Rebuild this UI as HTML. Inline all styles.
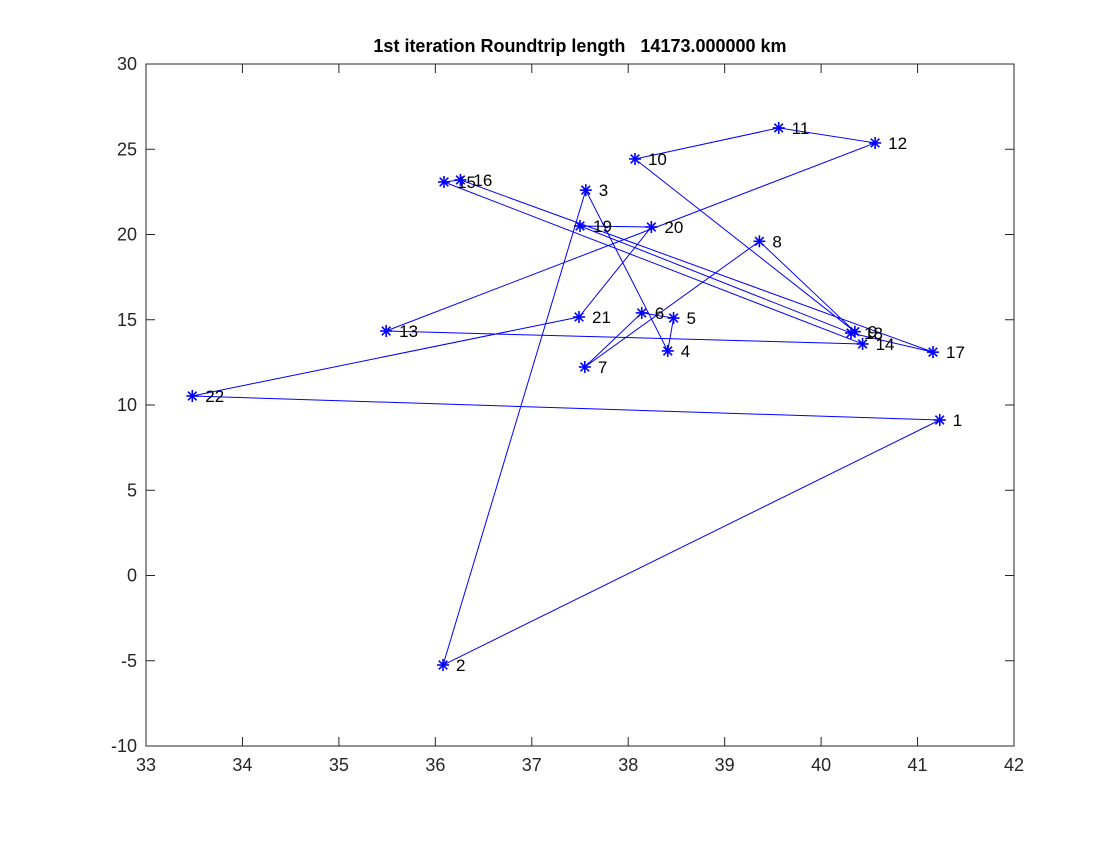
<!DOCTYPE html>
<html><head><meta charset="utf-8"><style>
body{margin:0;background:#fff}
svg text{font-family:"Liberation Sans",sans-serif}
</style></head><body>
<svg id="chart" width="1120" height="840">
<rect width="1120" height="840" fill="#fff"/>
</svg>
<script>
const cityIds=[1,2,3,4,5,6,7,8,9,10,11,12,13,14,15,16,17,18,19,20,21,22];
const cityX=[41.23,36.08,37.56,38.41,38.47,38.14,37.55,39.36,40.35,38.07,39.56,40.56,35.49,40.43,36.09,36.26,41.16,40.31,37.5,38.24,37.49,33.48];
const cityY=[9.12,-5.25,22.6,13.17,15.1,15.4,12.23,19.6,14.3,24.43,26.25,25.37,14.34,13.58,23.08,23.2,13.1,14.22,20.5,20.44,15.16,10.53];
const xTicks=[33,34,35,36,37,38,39,40,41,42];
const yTicks=[-10,-5,0,5,10,15,20,25,30];
const titleText="1st iteration Roundtrip length   14173.000000 km";

const L=146,R=1014,T=64,B=746;
const sx=v=>L+(v-33)/(42-33)*(R-L);
const sy=v=>B-(v+10)/(30+10)*(B-T);
const svg=document.getElementById('chart');
const NS='http://www.w3.org/2000/svg';
function mk(tag,attrs,parent){const e=document.createElementNS(NS,tag);for(const k in attrs)e.setAttribute(k,attrs[k]);(parent||svg).appendChild(e);return e;}

const frame=mk('rect',{x:L,y:T,width:R-L,height:B-T,fill:'none',stroke:'#262626','stroke-width':1});



xTicks.forEach(t=>{
  const x=sx(t);
  const tk=mk('line',{x1:x,x2:x,y1:B,y2:B-9,stroke:'#262626'});
  
  
  mk('line',{x1:x,x2:x,y1:T,y2:T+9,stroke:'#262626'});
  const tx=mk('text',{x:x,y:B+25,'text-anchor':'middle','font-size':18,fill:'#262626'});
  tx.textContent=t;
  
  
});
yTicks.forEach(t=>{
  const y=sy(t);
  const tk=mk('line',{x1:L,x2:L+9,y1:y,y2:y,stroke:'#262626'});
  
  
  mk('line',{x1:R,x2:R-9,y1:y,y2:y,stroke:'#262626'});
  const tx=mk('text',{x:L-9,y:y+6,'text-anchor':'end','font-size':18,fill:'#262626'});
  tx.textContent=t;
  
  
});

const pts=cityX.map((v,i)=>sx(v)+','+sy(cityY[i]));
pts.push(pts[0]);
const route=mk('polyline',{points:pts.join(' '),fill:'none',stroke:'#0000ff','stroke-width':1});



cityX.forEach((v,i)=>{
  const x=sx(v),y=sy(cityY[i]);
  const g=mk('g',{stroke:'#0000ff','stroke-width':1.6});
  
  
  const r=6,d=4.3;
  mk('line',{x1:x-r,x2:x+r,y1:y,y2:y},g);
  mk('line',{x1:x,x2:x,y1:y-r,y2:y+r},g);
  mk('line',{x1:x-d,x2:x+d,y1:y-d,y2:y+d},g);
  mk('line',{x1:x-d,x2:x+d,y1:y+d,y2:y-d},g);
  const lb=mk('text',{x:x+13,y:y+6,'font-size':17,fill:'#000'});
  lb.textContent=cityIds[i];
  
  
});

const title=mk('text',{x:(L+R)/2,y:52,'text-anchor':'middle','font-size':18,'font-weight':'bold',fill:'#000'});
title.style.whiteSpace='pre';
title.textContent=titleText;


</script>
</body></html>
